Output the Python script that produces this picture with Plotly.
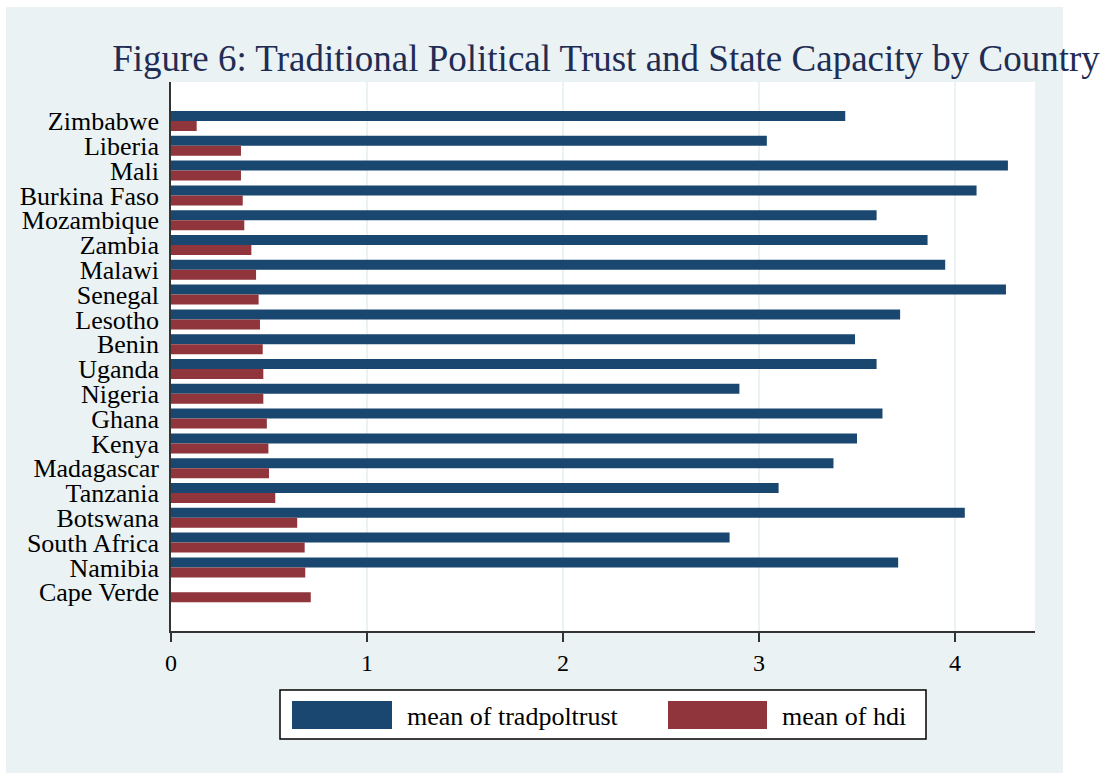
import plotly.graph_objects as go

countries = ["Zimbabwe", "Liberia", "Mali", "Burkina Faso", "Mozambique", "Zambia",
             "Malawi", "Senegal", "Lesotho", "Benin", "Uganda", "Nigeria", "Ghana",
             "Kenya", "Madagascar", "Tanzania", "Botswana", "South Africa", "Namibia",
             "Cape Verde"]
tradpoltrust = [3.44, 3.04, 4.27, 4.11, 3.60, 3.86, 3.95, 4.26, 3.72, 3.49, 3.60, 2.90,
                3.63, 3.50, 3.38, 3.10, 4.05, 2.85, 3.71, None]
hdi = [0.131, 0.357, 0.357, 0.366, 0.374, 0.410, 0.434, 0.447, 0.454, 0.468, 0.471,
       0.471, 0.489, 0.497, 0.500, 0.532, 0.644, 0.682, 0.685, 0.713]
x_ticks = [0, 1, 2, 3, 4]
legend_labels = ["mean of tradpoltrust", "mean of hdi"]
title_text = "Figure 6: Traditional Political Trust and State Capacity by Country"

W, H = 1105, 773
L, R, T, B = 171, 70, 82, 142
PW, PH = W - L - R, H - T - B

def px2x(px):
    return (px - L) / PW

def py2y(py):
    return (H - B - py) / PH

BLUE = "#1A476F"
RED = "#90353B"
BG = "#EAF2F3"
FONT = "Liberation Serif, Times New Roman, serif"

fig = go.Figure()
fig.add_trace(go.Bar(y=countries, x=tradpoltrust, orientation="h", name=legend_labels[0],
                     marker=dict(color=BLUE, line=dict(width=0)), showlegend=False))
fig.add_trace(go.Bar(y=countries, x=hdi, orientation="h", name=legend_labels[1],
                     marker=dict(color=RED, line=dict(width=0)), showlegend=False))

shapes = [
    # white margins outside the graph region
    dict(type="rect", xref="paper", yref="paper", x0=px2x(1063), x1=px2x(W + 5),
         y0=py2y(H + 5), y1=py2y(-5), fillcolor="white", line=dict(width=0), layer="below"),
    dict(type="rect", xref="paper", yref="paper", x0=px2x(-5), x1=px2x(W + 5),
         y0=py2y(7), y1=py2y(-5), fillcolor="white", line=dict(width=0), layer="below"),
    dict(type="rect", xref="paper", yref="paper", x0=px2x(-5), x1=px2x(6),
         y0=py2y(H + 5), y1=py2y(-5), fillcolor="white", line=dict(width=0), layer="below"),
    # legend box
    dict(type="rect", xref="paper", yref="paper", x0=px2x(280), x1=px2x(926),
         y0=py2y(739), y1=py2y(690), fillcolor="white", line=dict(color="black", width=1.5)),
    dict(type="rect", xref="paper", yref="paper", x0=px2x(292), x1=px2x(392),
         y0=py2y(729), y1=py2y(701), fillcolor=BLUE, line=dict(width=0)),
    dict(type="rect", xref="paper", yref="paper", x0=px2x(668), x1=px2x(767),
         y0=py2y(729), y1=py2y(701), fillcolor=RED, line=dict(width=0)),
]

annotations = [
    dict(text=legend_labels[0], xref="paper", yref="paper", x=px2x(405), y=py2y(716),
         xanchor="left", yanchor="middle", showarrow=False,
         font=dict(family=FONT, size=26, color="black")),
    dict(text=legend_labels[1], xref="paper", yref="paper", x=px2x(780), y=py2y(716),
         xanchor="left", yanchor="middle", showarrow=False,
         font=dict(family=FONT, size=26, color="black")),
]

fig.update_layout(
    width=W, height=H,
    margin=dict(l=L, r=R, t=T, b=B, pad=0),
    paper_bgcolor=BG, plot_bgcolor="white",
    barmode="group", bargap=0.194, bargroupgap=0,
    title=dict(text=title_text, x=px2x(606), xref="paper", xanchor="center",
               y=1 - 58 / H, yref="container", yanchor="middle",
               font=dict(family=FONT, size=37, color="#1F2D55")),
    xaxis=dict(range=[0, (1035 - L) / 196.0], tickvals=x_ticks,
               showgrid=True, gridcolor=BG, gridwidth=2, zeroline=False,
               showline=True, linecolor="#333333", linewidth=1.5,
               ticks="outside", ticklen=9, tickwidth=1.5, tickcolor="#333333",
               tickfont=dict(family=FONT, size=24, color="black")),
    yaxis=dict(type="category", categoryorder="array", categoryarray=countries,
               tickmode="array", tickvals=countries, ticktext=countries,
               range=[(H - B - 121) / 24.8, (T - 121) / 24.8],
               showgrid=False, zeroline=False,
               showline=True, linecolor="#333333", linewidth=1.5,
               ticks="", ticklabelstandoff=5,
               tickfont=dict(family=FONT, size=26, color="black")),
    shapes=shapes, annotations=annotations,
    font=dict(family=FONT),
)

fig.write_html("out.html")
